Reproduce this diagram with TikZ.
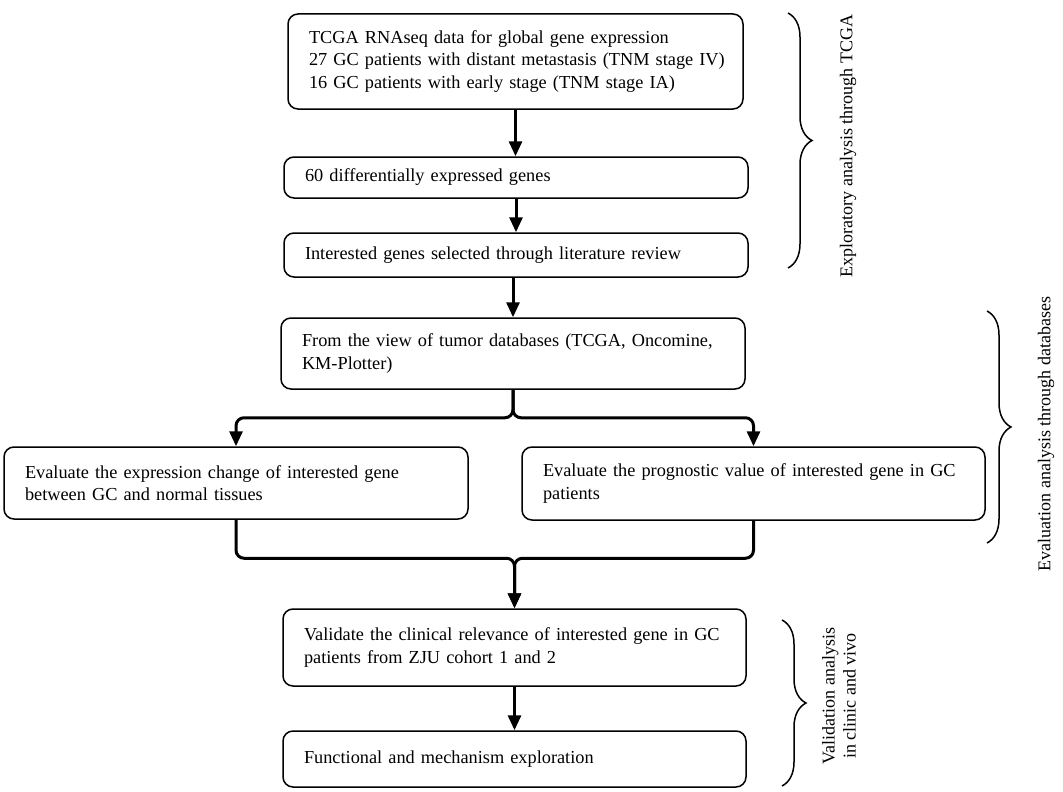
\documentclass[tikz,border=0pt]{standalone}
\usepackage{fontspec}
\setmainfont{Liberation Serif}
\usetikzlibrary{arrows.meta,decorations.pathreplacing}
\tikzset{
  box/.style={draw, line width=1.5pt, rounded corners=10pt, inner xsep=21pt, inner ysep=0pt,
    align=left, font=\fontsize{18.3}{22.5}\selectfont, anchor=center},
  conn/.style={line width=3pt, -{Triangle[width=13pt,length=15pt]}, rounded corners=8pt},
  brc/.style={decorate, decoration={brace, amplitude=24pt}, line width=1.5pt},
  lbl/.style={rotate=90, align=center, font=\fontsize{18}{21}\selectfont}
}
\newcommand{\bx}[6]{\node[box, minimum width=#3pt, minimum height=#4pt, text width=#5pt] (#1) at (#2) {#6};}
\newcommand{\tline}[1]{\mbox{#1}}
\begin{document}
\begin{tikzpicture}[x=1pt,y=-1pt]
\useasboundingbox (0,0) rectangle (1063,792);
\bx{b1}{515.5,61.5}{455}{95}{413}{\tline{TCGA RNAseq data for global gene expression}\\\tline{27 GC patients with distant metastasis (TNM stage IV)}\\\tline{16 GC patients with early stage (TNM stage IA)}}
\bx{b2}{516,177.5}{464}{41}{422}{\tline{60 differentially expressed genes}}
\bx{b3}{516,255}{464}{44}{422}{\tline{Interested genes selected through literature review}}
\bx{b4}{513,353.5}{464}{71}{422}{\tline{From the view of tumor databases (TCGA, Oncomine,}\\\tline{KM-Plotter)}}
\bx{b5}{236,483}{464}{72}{422}{\tline{Evaluate the expression change of interested gene}\\\tline{between GC and normal tissues}}
\bx{b6}{753.5,483.5}{463}{73}{421}{\tline{Evaluate the prognostic value of interested gene in GC}\\\tline{patients}}
\bx{b7}{514.5,647.5}{463}{77}{421}{\tline{Validate the clinical relevance of interested gene in GC}\\\tline{patients from ZJU cohort 1 and 2}}
\bx{b8}{514.5,759}{463}{56}{421}{\tline{Functional and mechanism exploration}}
% connectors
\draw[conn] (b1.south) -- (b1.south |- b2.north);
\draw[conn] (b2.south) -- (b2.south |- b3.north);
\draw[conn] (b4.north |- b3.south) -- (b4.north);
\path (b4.south) ++(0,28) coordinate (sj);
\draw[conn] (b4.south) -- (sj) -| (b5.north);
\draw[conn] (b4.south) -- (sj) -| (b6.north);
\path (b7.north) ++(0,-50) coordinate (mj);
\draw[conn] (b5.south) |- (mj) -- (b7.north);
\draw[conn] (b6.south) |- (mj) -- (b7.north);
\draw[conn] (b7.south) -- (b7.south |- b8.north);
% braces
\coordinate (r1a) at (788,13); \coordinate (r1b) at (788,268);
\draw[brc] (r1a) -- (r1b);
\coordinate (r2a) at (987,311); \coordinate (r2b) at (987,543);
\draw[brc] (r2a) -- (r2b);
\coordinate (r3a) at (782,620); \coordinate (r3b) at (782,786);
\draw[brc] (r3a) -- (r3b);
% labels
\node[lbl] (l1) at (848,146) {Exploratory analysis through TCGA};
\node[lbl] (l2) at (1046,434) {Evaluation analysis through databases};
\node[lbl] (l3) at (839,696) {Validation analysis\\in clinic and vivo};
\end{tikzpicture}
\end{document}
